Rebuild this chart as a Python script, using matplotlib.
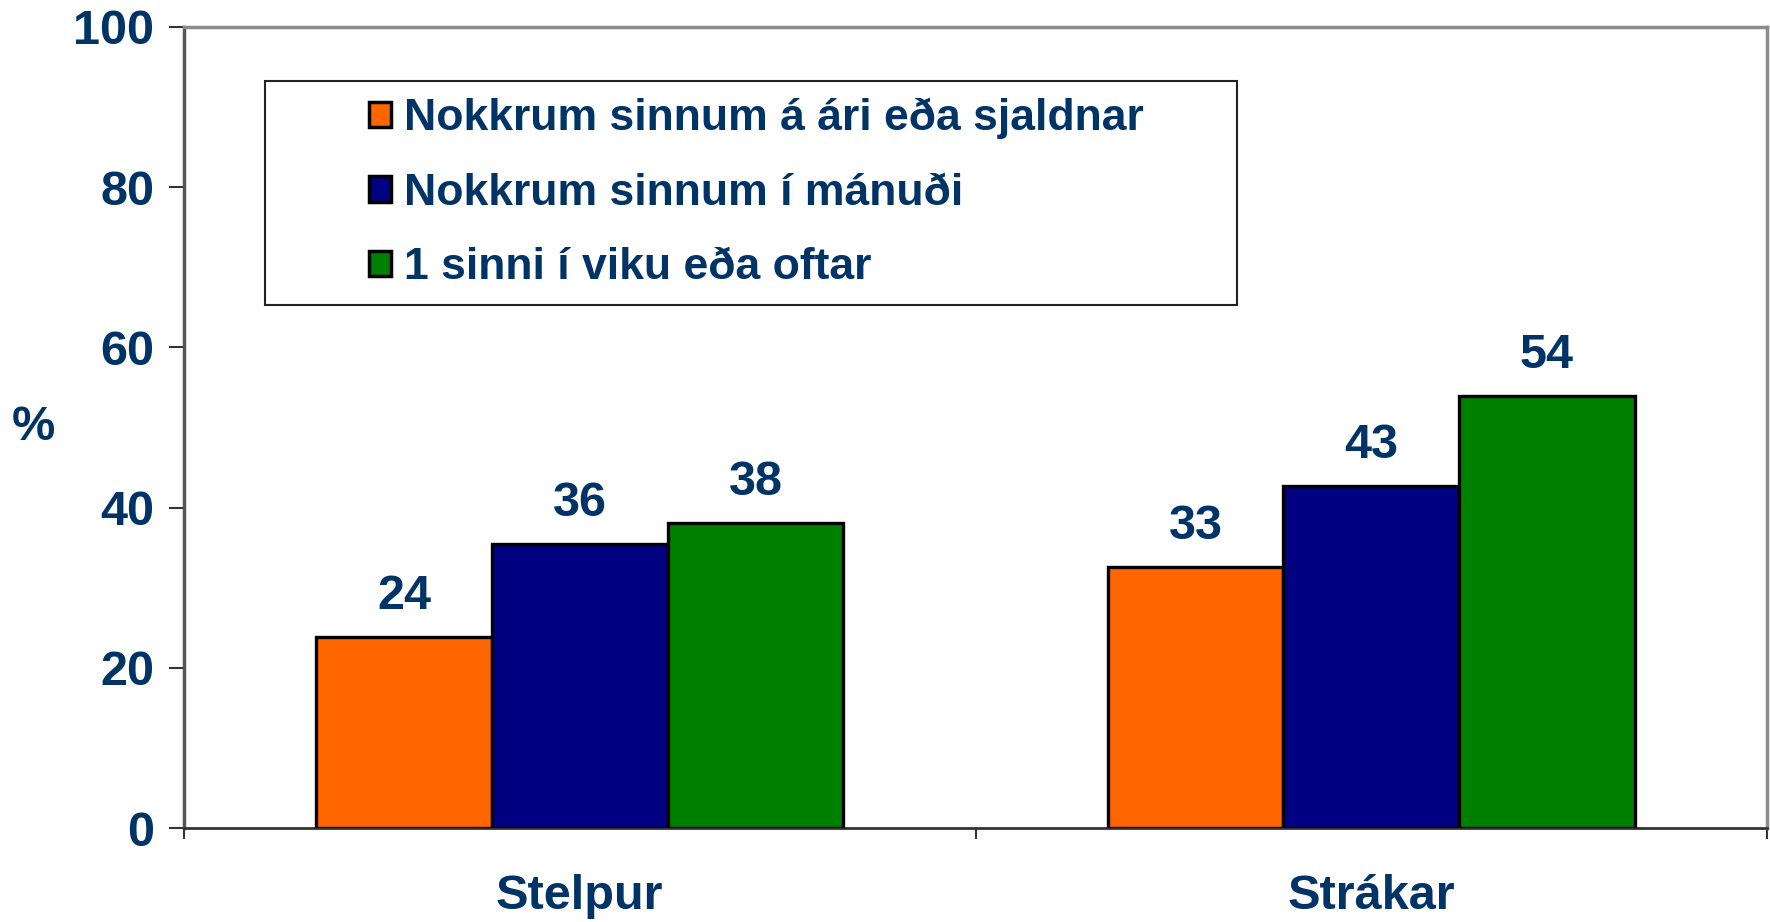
import matplotlib
matplotlib.use("Agg")
import matplotlib.pyplot as plt
import numpy as np
from matplotlib.patches import Rectangle, Patch

categories = ["Stelpur", "Strákar"]
series_names = ["Nokkrum sinnum á ári eða sjaldnar",
                "Nokkrum sinnum í mánuði",
                "1 sinni í viku eða oftar"]
values_annual = [23.8, 32.6]
values_monthly = [35.5, 42.7]
values_weekly = [38.1, 53.9]
labels_annual = ["24", "33"]
labels_monthly = ["36", "43"]
labels_weekly = ["38", "54"]
yticks = [0, 20, 40, 60, 80, 100]

colors = ["#FF6600", "#000080", "#008000"]
txt = "#003366"
plt.rcParams['font.family'] = ['Liberation Sans', 'DejaVu Sans']
FS = 35

fig = plt.figure(figsize=(17.7, 9.22), dpi=100)
ax = fig.add_axes([184/1770, 1 - 828/922, (1767-184)/1770, (828-27)/922])

x = np.arange(len(categories))
w = 0.222
all_vals = [values_annual, values_monthly, values_weekly]
all_labels = [labels_annual, labels_monthly, labels_weekly]
for i, (vals, labs) in enumerate(zip(all_vals, all_labels)):
    bars = ax.bar(x + (i - 1) * w, vals, w, color=colors[i], edgecolor="black",
                  linewidth=2.4, zorder=3)
    for b, lab in zip(bars, labs):
        ax.annotate(lab, (b.get_x() + b.get_width() / 2, b.get_height()),
                    xytext=(0, 13), textcoords="offset points",
                    ha="center", va="bottom", fontsize=FS, fontweight="bold",
                    color=txt)

ax.set_xlim(-0.5, 1.5)
ax.set_ylim(0, 100)
ax.set_yticks(yticks)
ax.set_yticklabels([str(t) for t in yticks], fontsize=FS, fontweight="bold", color=txt)
ax.tick_params(axis="y", length=10.5, width=1.5, color="#333333", pad=11)
ax.set_xticks([-0.5, 0.5, 1.5])
ax.set_xticklabels([])
ax.tick_params(axis="x", which="major", length=8, width=1.5, color="#333333")
ax.set_xticks(x, minor=True)
ax.set_xticklabels(categories, minor=True, fontsize=FS, fontweight="bold", color=txt)
ax.tick_params(axis="x", which="minor", length=0, pad=33)

ax.set_ylabel("%", fontsize=FS, fontweight="bold", color=txt, rotation=0, va="center")
ax.yaxis.set_label_coords(-0.095, 0.5)

for s in ["top", "right"]:
    ax.spines[s].set_color("#8c8c8c")
    ax.spines[s].set_linewidth(2.5)
ax.spines["left"].set_color("#555555")
ax.spines["left"].set_linewidth(2.5)
ax.spines["bottom"].set_color("#333333")
ax.spines["bottom"].set_linewidth(2)

# legend box
bx0, by0, bx1, by1 = 265/1770, 1 - 305/922, 1237/1770, 1 - 81/922
fig.patches.append(Rectangle((bx0, by0), bx1 - bx0, by1 - by0, transform=fig.transFigure,
                             facecolor="white", edgecolor="#222222", linewidth=1.5, zorder=4))
handles = [Patch(facecolor=c, edgecolor="black", linewidth=2.5) for c in colors]
leg = fig.legend(handles, series_names, loc="center", bbox_to_anchor=((bx0 + bx1) / 2 + 0.003, (by0 + by1) / 2),
                 frameon=False, fontsize=32, handlelength=0.5, handleheight=0.5,
                 handletextpad=0.3, labelspacing=0.75)
for t in leg.get_texts():
    t.set_color(txt)
    t.set_fontweight("bold")
leg.set_zorder(5)

fig.savefig("out.png", dpi=100)
